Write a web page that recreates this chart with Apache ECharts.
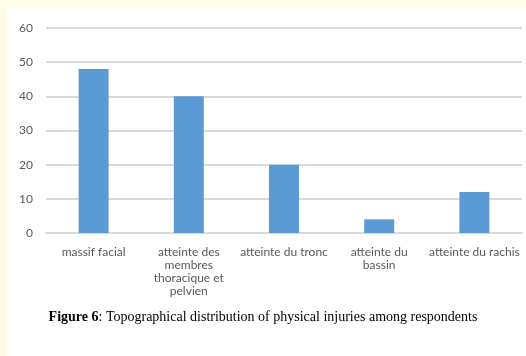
<!DOCTYPE html>
<html>
<head>
<meta charset="utf-8">
<script src="https://cdn.jsdelivr.net/npm/echarts@6/dist/echarts.min.js"></script>
<style>
html,body{margin:0;padding:0;background:#fffbe9;}
#chart{width:526px;height:356px;}
</style>
</head>
<body>
<div id="chart"></div>
<script>
var categories = ["massif facial", "atteinte des\nmembres\nthoracique et\npelvien", "atteinte du tronc", "atteinte du\nbassin", "atteinte du rachis"];
var values = [48, 40, 20, 4, 12];
var yTicks = [0, 10, 20, 30, 40, 50, 60];
var captionBold = "Figure 6";
var captionText = ": Topographical distribution of physical injuries among respondents";

var chart = echarts.init(document.getElementById('chart'), null, {renderer: 'canvas'});
chart.setOption({
  backgroundColor: '#fffbe9',
  animation: false,
  graphic: {
    elements: [
      {type: 'rect', z: -100, shape: {x: 7, y: 8, width: 519, height: 348}, style: {fill: '#ffffff'}},
      {type: 'text', left: 'center', top: 310, z: 10,
        style: {
          text: '{b|' + captionBold + '}{n|' + captionText + '}',
          rich: {
            b: {fontFamily: 'Liberation Serif', fontSize: 14, fontWeight: 'bold', fill: '#000'},
            n: {fontFamily: 'Liberation Serif', fontSize: 14, fill: '#000'}
          }
        }
      }
    ]
  },
  grid: {left: 46, right: 4, top: 28, bottom: 123, containLabel: false},
  xAxis: {
    type: 'category',
    data: categories,
    axisLine: {show: true, lineStyle: {color: '#d9d9d9', width: 2}},
    axisTick: {show: false},
    axisLabel: {color: '#595959', fontFamily: 'Lato', fontSize: 12, lineHeight: 13, margin: 13, interval: 0}
  },
  yAxis: {
    type: 'value',
    min: 0, max: 60, interval: 10,
    axisLine: {show: false},
    axisTick: {show: false},
    axisLabel: {color: '#595959', fontFamily: 'Lato', fontSize: 12, margin: 13,
      formatter: function (v) { return yTicks.indexOf(v) >= 0 ? String(v) : ''; }},
    splitLine: {lineStyle: {color: '#d9d9d9', width: 2}}
  },
  series: [{
    type: 'bar',
    data: values,
    barWidth: 30,
    itemStyle: {color: '#5b9bd5'}
  }]
});
</script>
</body>
</html>
